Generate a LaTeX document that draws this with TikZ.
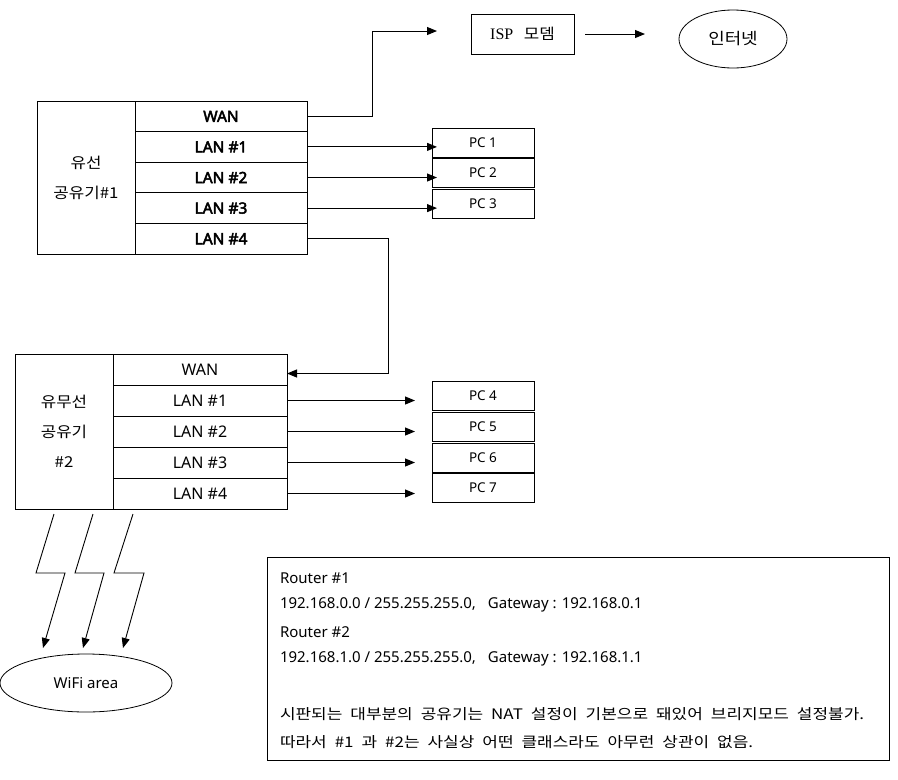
\documentclass[tikz,border=0pt]{standalone}
\usepackage{fontspec}
\setmainfont{Noto Sans}
\newfontfamily\fbold{Noto Sans}[FakeBold=3]
\newfontfamily\kr{Noto Sans CJK KR}[FakeStretch=1.12]
\newfontfamily\krw{Noto Sans CJK KR}[FakeStretch=1.17,WordSpace=2.1]
\newfontfamily\serifk{Liberation Serif}
\usetikzlibrary{arrows.meta,shapes.geometric}
\begin{document}
\begin{tikzpicture}[x=1pt,y=-1pt,
  every node/.style={inner sep=0pt,outer sep=0pt},
  box/.style={draw,line width=0.9pt},
  labelbox/.style={box,minimum width=98pt,align=center,font=\kr\fontsize{15}{30}\selectfont},
  rowa/.style={box,minimum width=172pt,minimum height=30.6pt,font=\fbold\fontsize{15.5}{17}\selectfont},
  rowb/.style={box,minimum width=174pt,minimum height=31pt,font=\fontsize{16}{18}\selectfont},
  pcbox/.style={draw,line width=0.9pt,minimum width=102pt,minimum height=29pt,font=\fontsize{13.5}{15}\selectfont},
  oval/.style={draw,ellipse,line width=0.8pt},
  conn/.style={line width=1pt},
  arr/.style={conn,-{Triangle[length=10pt,width=8pt]}},
  note/.style={anchor=west,font=\fontsize{15}{17}\selectfont},
  knote/.style={anchor=west,font=\krw\fontsize{14.5}{17}\selectfont}]
\useasboundingbox (0,0) rectangle (898,780);

% Router 1
\node[labelbox,minimum height=153pt] (r1) at (86,177.5) {유선\\공유기\#1};
\node[rowa] (r1wan) at (221,116.3) {WAN};
\node[rowa] (r1l1) at (221,146.9) {LAN \#1};
\node[rowa] (r1l2) at (221,177.5) {LAN \#2};
\node[rowa] (r1l3) at (221,208.1) {LAN \#3};
\node[rowa] (r1l4) at (221,238.7) {LAN \#4};

% ISP modem and internet
\node[box,minimum width=103pt,minimum height=40pt,font=\fontsize{15}{17}\selectfont] (isp) at (522.5,34) {{\serifk\fontsize{16}{18}\selectfont ISP}\hspace{0.7em}{\kr 모뎀}};
\node[oval,minimum width=108pt,minimum height=58pt,font=\kr\fontsize{16}{18}\selectfont] (inet) at (733,39) {인터넷};

% PCs of router 1
\node[pcbox] (pc1) at (483,142.5) {PC 1};
\node[pcbox] (pc2) at (483,172.5) {PC 2};
\node[pcbox] (pc3) at (483,203.5) {PC 3};

% Router 2
\node[labelbox,minimum height=155pt] (r2) at (64,431.5) {유무선\\공유기\\\#2};
\node[rowb] (r2wan) at (200,369.5) {WAN};
\node[rowb] (r2l1) at (200,400.5) {LAN \#1};
\node[rowb] (r2l2) at (200,431.5) {LAN \#2};
\node[rowb] (r2l3) at (200,462.5) {LAN \#3};
\node[rowb] (r2l4) at (200,493.5) {LAN \#4};

% PCs of router 2
\node[pcbox] (pc4) at (483,395.5) {PC 4};
\node[pcbox] (pc5) at (483,426.5) {PC 5};
\node[pcbox] (pc6) at (483,457.5) {PC 6};
\node[pcbox] (pc7) at (483,488) {PC 7};

% WiFi area
\node[oval,minimum width=172pt,minimum height=58pt,font=\fontsize{15}{17}\selectfont] (wifi) at (86,683) {WiFi area};

% Note box
\node[draw,line width=0.9pt,minimum width=622pt,minimum height=203pt] (notebox) at (578,658.5) {};
\node[note] (n1) at (280,578) {Router \#1};
\node[note] (n2) at (280,605) {192.168.0.0 / 255.255.255.0,\hspace{0.8em}Gateway : 192.168.0.1};
\node[note] (n3) at (280,632) {Router \#2};
\node[note] (n4) at (280,659) {192.168.1.0 / 255.255.255.0,\hspace{0.8em}Gateway : 192.168.1.1};
\node[knote] (n5) at (280,714) {시판되는 대부분의 공유기는 NAT 설정이 기본으로 돼있어 브리지모드 설정불가.};
\node[knote] (n6) at (280,742) {따라서 \#1 과 \#2는 사실상 어떤 클래스라도 아무런 상관이 없음.};

% Connectors
\draw[arr] (r1wan.east) -- ++(65,0) |- ([xshift=-34pt,yshift=3pt]isp.west);
\draw[arr,shorten <=11pt,shorten >=34pt] (isp.east) -- (isp.east -| inet.west);
\draw[arr,shorten >=-5pt] (r1l1.east) -- (r1l1.east -| pc1.west);
\draw[arr,shorten >=-5pt] (r1l2.east) -- (r1l2.east -| pc2.west);
\draw[arr,shorten >=-5pt] (r1l3.east) -- (r1l3.east -| pc3.west);
\draw[arr] (r1l4.east) -- ++(81,0) |- ([yshift=-4pt]r2wan.east);
\draw[arr,shorten >=17pt] (r2l1.east) -- (r2l1.east -| pc4.west);
\draw[arr,shorten >=17pt] (r2l2.east) -- (r2l2.east -| pc5.west);
\draw[arr,shorten >=17pt] (r2l3.east) -- (r2l3.east -| pc6.west);
\draw[arr,shorten >=17pt] (r2l4.east) -- (r2l4.east -| pc7.west);

% Lightning bolts
\coordinate (b1) at (54,514);
\coordinate (b2) at (93,514);
\coordinate (b3) at (133,514);
\coordinate (t1) at (43,648);
\coordinate (t2) at (83,648);
\coordinate (t3) at (123,648);
\draw[arr,line width=0.9pt] (b1) -- (36,573) -- (65,573) -- (t1);
\draw[arr,line width=0.9pt] (b2) -- (75,573) -- (104,573) -- (t2);
\draw[arr,line width=0.9pt] (b3) -- (114,573) -- (144,573) -- (t3);
\end{tikzpicture}
\end{document}
